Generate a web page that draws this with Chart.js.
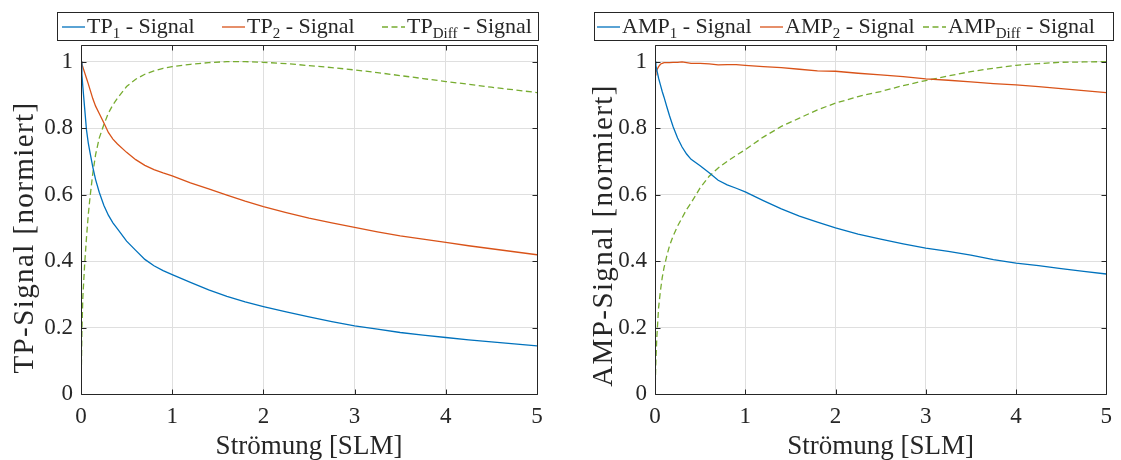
<!DOCTYPE html>
<html>
<head>
<meta charset="utf-8">
<script src="https://cdn.jsdelivr.net/npm/chart.js@4.4.1/dist/chart.umd.min.js"></script>
<style>
  html, body { margin: 0; padding: 0; background: #fff; }
  #wrap { position: relative; width: 1121px; height: 460px; overflow: hidden; background: #fff; }
  canvas { position: absolute; top: 0; }
  #cTP { left: 0; }
  #cAMP { left: 560px; }
  #warm { position: absolute; left: -9999px; top: 0; font-size: 20px; }
</style>
</head>
<body>
<div id="warm">
  <span style="font-family:'Liberation Serif'">Strömung [SLM] 0.8</span>
  <span style="font-family:'DejaVu Serif'">Strömung [SLM] 0.8</span>
</div>
<div id="wrap">
  <canvas id="cTP" width="560" height="460"></canvas>
  <canvas id="cAMP" width="561" height="460"></canvas>
</div>
<script>
// Flow values [SLM] at which both signals were sampled
const flowTP = [0, 0.01, 0.02, 0.04, 0.06, 0.08, 0.1, 0.13, 0.16, 0.2, 0.25, 0.3, 0.35, 0.4, 0.5, 0.6, 0.7, 0.8, 0.9, 1.0,
  1.2, 1.4, 1.6, 1.8, 2.0, 2.25, 2.5, 2.75, 3.0, 3.25, 3.5, 3.75, 4.0, 4.25, 4.5, 4.75, 5.0];
const tp1 = [1, 0.96, 0.925, 0.86, 0.795, 0.755, 0.725, 0.682, 0.645, 0.607, 0.568, 0.538, 0.515, 0.497, 0.46, 0.432, 0.405, 0.386, 0.371, 0.359,
  0.336, 0.313, 0.294, 0.277, 0.263, 0.247, 0.232, 0.218, 0.205, 0.195, 0.185, 0.177, 0.17, 0.163, 0.157, 0.151, 0.145];
const tp2 = [1, 0.992, 0.984, 0.967, 0.95, 0.933, 0.915, 0.888, 0.866, 0.844, 0.816, 0.787, 0.767, 0.752, 0.727, 0.705, 0.688, 0.675, 0.665, 0.656,
  0.635, 0.617, 0.598, 0.58, 0.564, 0.546, 0.529, 0.515, 0.501, 0.488, 0.476, 0.466, 0.456, 0.446, 0.437, 0.428, 0.419];
const tpDiff = [0, 0.19, 0.29, 0.39, 0.47, 0.54, 0.595, 0.665, 0.72, 0.77, 0.81, 0.845, 0.87, 0.89, 0.925, 0.947, 0.962, 0.972, 0.98, 0.985,
  0.992, 0.997, 1.0, 1.0, 0.998, 0.994, 0.988, 0.982, 0.975, 0.967, 0.958, 0.949, 0.94, 0.932, 0.923, 0.915, 0.907];

const flowAMP = [0, 0.01, 0.02, 0.04, 0.06, 0.08, 0.1, 0.13, 0.16, 0.2, 0.25, 0.3, 0.35, 0.4, 0.5, 0.6, 0.7, 0.8, 0.9, 1.0,
  1.2, 1.4, 1.6, 1.8, 2.0, 2.25, 2.5, 2.75, 3.0, 3.25, 3.5, 3.75, 4.0, 4.25, 4.5, 4.75, 5.0];
const amp1 = [1, 0.988, 0.975, 0.95, 0.93, 0.91, 0.893, 0.865, 0.838, 0.805, 0.77, 0.743, 0.722, 0.706, 0.687, 0.666, 0.643, 0.629, 0.619, 0.608,
  0.582, 0.557, 0.535, 0.517, 0.5, 0.481, 0.466, 0.452, 0.439, 0.429, 0.418, 0.404, 0.394, 0.386, 0.377, 0.369, 0.361];
const amp2 = [0.96, 0.968, 0.975, 0.985, 0.992, 0.995, 0.997, 0.997, 0.997, 0.998, 0.998, 0.999, 0.997, 0.995, 0.995, 0.993, 0.99, 0.991, 0.991, 0.989,
  0.985, 0.982, 0.977, 0.972, 0.971, 0.965, 0.96, 0.955, 0.948, 0.944, 0.939, 0.934, 0.93, 0.925, 0.919, 0.913, 0.907];
const ampDiff = [0, 0.1, 0.17, 0.26, 0.31, 0.35, 0.38, 0.415, 0.445, 0.475, 0.505, 0.53, 0.555, 0.575, 0.62, 0.655, 0.68, 0.7, 0.718, 0.735,
  0.773, 0.805, 0.83, 0.855, 0.875, 0.895, 0.91, 0.928, 0.943, 0.957, 0.97, 0.98, 0.989, 0.994, 0.998, 0.999, 1.0];

// Axis ticks and labels
const xTicks = [0, 1, 2, 3, 4, 5];
const yTicks = [0, 0.2, 0.4, 0.6, 0.8, 1];
const xTitle = 'Strömung [SLM]';
const yTitleTP = 'TP-Signal [normiert]';
const yTitleAMP = 'AMP-Signal [normiert]';

// Legend texts: base, subscript, tail
const legendTP = [['TP', '1', ' - Signal'], ['TP', '2', ' - Signal'], ['TP', 'Diff', ' - Signal']];
const legendAMP = [['AMP', '1', ' - Signal'], ['AMP', '2', ' - Signal'], ['AMP', 'Diff', ' - Signal']];

const COLORS = ['#0072BD', '#D95319', '#77AC30'];
const AXIS = '#262626';

// Pick the first serif face that is actually available
function pickSerif() {
  const c = document.createElement('canvas').getContext('2d');
  const probe = 'Strömung [SLM] abcdefghijklmnopqrstuvwxyz 0.123456789';
  const widthWith = f => { c.font = '40px ' + f; return c.measureText(probe).width; };
  const refMono = widthWith('monospace');
  const refSans = widthWith('sans-serif');
  for (const name of ['Liberation Serif', 'DejaVu Serif', 'Noto Serif', 'Times New Roman']) {
    const q = '"' + name + '"';
    if (widthWith(q + ', monospace') !== refMono || widthWith(q + ', sans-serif') !== refSans) return q + ', serif';
  }
  return '"Liberation Serif", serif';
}
let FONT = pickSerif();
Chart.defaults.font.family = FONT;
Chart.defaults.color = AXIS;

const pairs = (xs, ys) => xs.map((x, i) => ({ x, y: ys[i] }));

// Box around the axes with inward tick marks on all four sides
const framePlugin = {
  id: 'frame',
  afterDraw(chart) {
    const { ctx, chartArea: a, scales } = chart;
    ctx.save();
    ctx.strokeStyle = AXIS;
    ctx.lineWidth = 1;
    ctx.beginPath();
    const L = Math.round(a.left) + 0.5, R = Math.round(a.right) + 0.5;
    const T = Math.round(a.top) + 0.5, B = Math.round(a.bottom) + 0.5;
    ctx.rect(L, T, R - L, B - T);
    const len = 5;
    xTicks.forEach(v => {
      const px = Math.round(scales.x.getPixelForValue(v)) + 0.5;
      ctx.moveTo(px, B); ctx.lineTo(px, B - len);
      ctx.moveTo(px, T); ctx.lineTo(px, T + len);
    });
    yTicks.forEach(v => {
      const py = Math.round(scales.y.getPixelForValue(v)) + 0.5;
      ctx.moveTo(L, py); ctx.lineTo(L + len, py);
      ctx.moveTo(R, py); ctx.lineTo(R - len, py);
    });
    ctx.stroke();
    ctx.restore();
  }
};

// Rotated y-axis title, placed left of the tick labels
const yTitlePlugin = {
  id: 'yTitle',
  afterDraw(chart, args, opts) {
    if (!opts || !opts.text) return;
    const { ctx, chartArea: a } = chart;
    ctx.save();
    ctx.translate(opts.x, (a.top + a.bottom) / 2 + opts.shift);
    ctx.rotate(-Math.PI / 2);
    ctx.font = opts.size + 'px ' + FONT;
    if ('letterSpacing' in ctx) ctx.letterSpacing = opts.spacing + 'px';
    ctx.fillStyle = AXIS;
    ctx.textAlign = 'center';
    ctx.textBaseline = 'middle';
    ctx.fillText(opts.text, 0, 0);
    ctx.restore();
  }
};

// Boxed legend with subscripted series names
const subLegendPlugin = {
  id: 'subLegend',
  afterDraw(chart, args, opts) {
    if (!opts || !opts.items) return;
    const { ctx } = chart;
    ctx.save();
    ctx.fillStyle = '#fff';
    ctx.fillRect(opts.left, opts.top, opts.right - opts.left, opts.bottom - opts.top);
    ctx.strokeStyle = AXIS;
    ctx.lineWidth = 1;
    ctx.strokeRect(opts.left + 0.5, opts.top + 0.5, opts.right - opts.left, opts.bottom - opts.top);
    const midY = (opts.top + opts.bottom) / 2 + 1;
    const base = opts.baseline;
    opts.items.forEach((parts, i) => {
      const ds = chart.data.datasets[i];
      let x = opts.left + opts.pad + i * opts.colW;
      ctx.strokeStyle = ds.borderColor;
      ctx.lineWidth = ds.borderWidth;
      ctx.setLineDash(ds.borderDash || []);
      ctx.beginPath();
      ctx.moveTo(x, midY);
      ctx.lineTo(x + opts.lineLen, midY);
      ctx.stroke();
      ctx.setLineDash([]);
      x += opts.lineLen + 2;
      ctx.fillStyle = AXIS;
      ctx.textBaseline = 'alphabetic';
      ctx.textAlign = 'left';
      ctx.font = opts.size + 'px ' + FONT;
      ctx.fillText(parts[0], x, base);
      x += ctx.measureText(parts[0]).width;
      ctx.font = opts.subSize + 'px ' + FONT;
      ctx.fillText(parts[1], x, base + opts.subShift);
      x += ctx.measureText(parts[1]).width;
      ctx.font = opts.size + 'px ' + FONT;
      ctx.fillText(parts[2], x, base);
    });
    ctx.restore();
  }
};

function makeChart(id, series, geom) {
  const ctx = document.getElementById(id);
  return new Chart(ctx, {
    type: 'line',
    data: {
      datasets: series.map((s, i) => ({
        data: s,
        borderColor: COLORS[i],
        backgroundColor: COLORS[i],
        borderWidth: 1.3,
        borderDash: i === 2 ? [6, 3.5] : [],
        pointRadius: 0,
        tension: 0,
        fill: false
      }))
    },
    options: {
      responsive: false,
      animation: false,
      devicePixelRatio: 1,
      layout: { padding: { top: 45, right: geom.padRight, bottom: 0, left: 0 } },
      plugins: {
        legend: { display: false },
        tooltip: { enabled: false },
        subLegend: geom.legend,
        yTitle: geom.yTitle
      },
      scales: {
        x: {
          type: 'linear',
          min: 0, max: 5,
          afterFit(s) { s.height = 66; },
          afterBuildTicks(s) { s.ticks = xTicks.map(v => ({ value: v })); },
          ticks: {
            font: { size: 23 },
            color: AXIS,
            padding: 9,
            maxRotation: 0,
            callback: v => String(v)
          },
          grid: { color: '#dfdfdf', lineWidth: 1, drawTicks: false },
          border: { display: false },
          title: {
            display: true,
            text: xTitle,
            font: { size: 27, lineHeight: 1 },
            color: AXIS,
            padding: { top: 0, bottom: 0 }
          }
        },
        y: {
          type: 'linear',
          min: 0, max: 1.05,
          afterFit(s) { s.width = geom.yWidth; },
          afterBuildTicks(s) { s.ticks = yTicks.map(v => ({ value: v })); },
          ticks: {
            font: { size: 23 },
            color: AXIS,
            padding: 8,
            callback: v => (v === 0 || v === 1) ? String(v) : v.toFixed(1)
          },
          grid: { color: '#dfdfdf', lineWidth: 1, drawTicks: false },
          border: { display: false },
          title: { display: false }
        }
      }
    },
    plugins: [framePlugin, subLegendPlugin, yTitlePlugin]
  });
}

const charts = [
  makeChart('cTP',
    [pairs(flowTP, tp1), pairs(flowTP, tp2), pairs(flowTP, tpDiff)],
    {
      padRight: 23, yWidth: 81,
      yTitle: { text: yTitleTP, x: 25, shift: 18, size: 29, spacing: 1.4 },
      legend: { items: legendTP, left: 57, right: 538, top: 12, bottom: 40, pad: 5, colW: 160,
        lineLen: 23, size: 22, subSize: 15, subShift: 5, baseline: 33 }
    }),
  makeChart('cAMP',
    [pairs(flowAMP, amp1), pairs(flowAMP, amp2), pairs(flowAMP, ampDiff)],
    {
      padRight: 9, yWidth: 95,
      yTitle: { text: yTitleAMP, x: 44, shift: 16, size: 29, spacing: 1.4 },
      legend: { items: legendAMP, left: 34, right: 553, top: 12, bottom: 40, pad: 3, colW: 163,
        lineLen: 23, size: 22, subSize: 15, subShift: 5, baseline: 33 }
    })
];

// Redraw once the faces are confirmed loaded
if (document.fonts && document.fonts.load) {
  Promise.all([
    document.fonts.load('22px "Liberation Serif"'),
    document.fonts.load('22px "DejaVu Serif"')
  ]).then(() => {
    const f = pickSerif();
    if (f !== FONT) {
      FONT = f;
      Chart.defaults.font.family = FONT;
    }
    charts.forEach(c => c.update());
  }).catch(() => {});
}
</script>
</body>
</html>
